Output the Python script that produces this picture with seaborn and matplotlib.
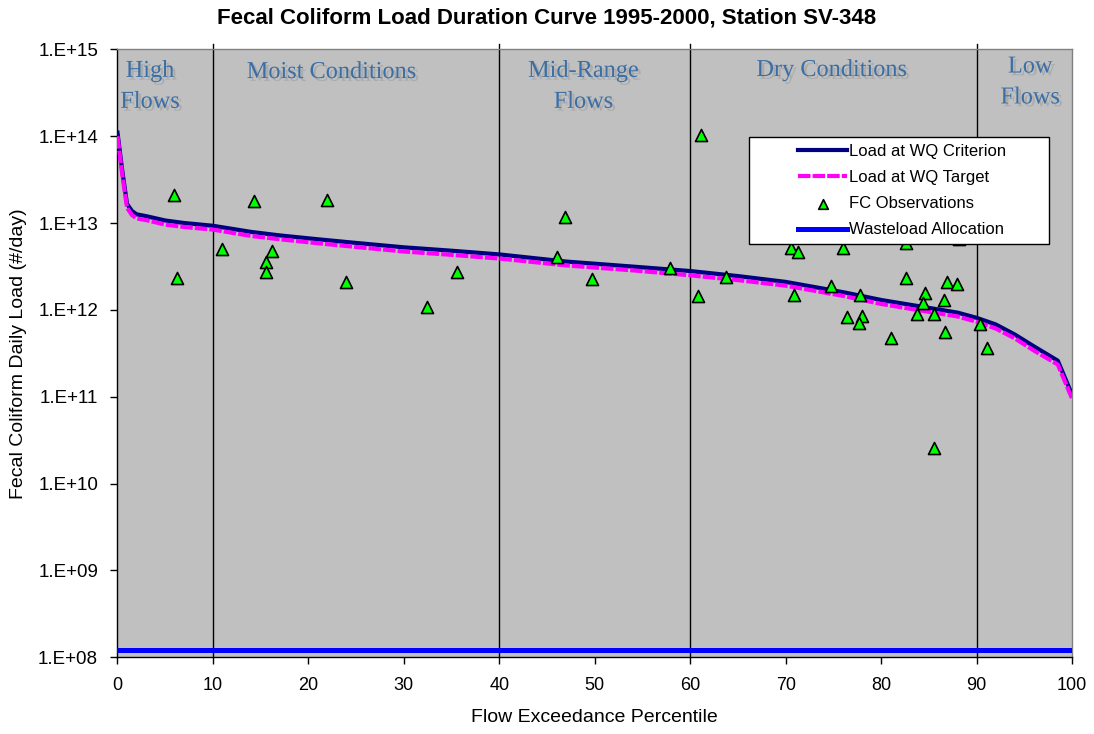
import matplotlib
matplotlib.use("Agg")
import matplotlib.pyplot as plt
import matplotlib.patheffects as pe
from matplotlib.lines import Line2D
from matplotlib.collections import PathCollection
from matplotlib.legend_handler import HandlerLine2D, HandlerPathCollection
import seaborn as sns

# load duration curves (flow exceedance percentile, #/day)
curve_pct = [0, 0.5, 1, 1.5, 2, 3, 5, 7, 10, 14, 17, 21, 25, 30, 35, 40, 47, 54, 60,
             65, 70, 76, 80, 84, 88, 90, 92, 94, 96, 98.5, 100]
criterion_load = [1.1e14, 4.0e13, 1.66e13, 1.38e13, 1.26e13, 1.2e13, 1.07e13, 1.0e13, 9.3e12,
                  7.9e12, 7.2e12, 6.5e12, 5.9e12, 5.25e12, 4.8e12, 4.35e12, 3.6e12, 3.15e12,
                  2.8e12, 2.45e12, 2.1e12, 1.6e12, 1.3e12, 1.1e12, 9.3e11, 8.1e11, 6.8e11,
                  5.2e11, 3.8e11, 2.6e11, 1.05e11]
target_load = [1.0e14, 3.6e13, 1.5e13, 1.24e13, 1.13e13, 1.08e13, 9.6e12, 9.0e12, 8.4e12,
               7.1e12, 6.5e12, 5.85e12, 5.3e12, 4.7e12, 4.3e12, 3.9e12, 3.25e12, 2.85e12,
               2.5e12, 2.2e12, 1.9e12, 1.45e12, 1.17e12, 9.9e11, 8.4e11, 7.3e11, 6.1e11,
               4.7e11, 3.4e11, 2.35e11, 9.5e10]

# fecal coliform observations
obs_pct = [5.9, 6.2, 10.9, 14.3, 16.2, 15.6, 15.6, 21.9, 23.9, 32.4, 35.6,
           46.9, 46.0, 49.7, 57.9, 61.1, 60.8, 63.7,
           70.9, 70.6, 71.3, 74.7, 76.0, 77.8, 76.4, 78.0, 77.7, 81.0, 82.6, 82.6,
           83.8, 84.6, 84.4, 85.5, 85.5, 86.7, 86.6, 86.9, 87.9, 88.1, 90.3, 91.1]
obs_load = [2.1e13, 2.35e12, 5.0e12, 1.8e13, 4.8e12, 3.6e12, 2.7e12, 1.85e13, 2.1e12, 1.07e12, 2.75e12,
            1.18e13, 4.1e12, 2.25e12, 3.0e12, 1.02e14, 1.45e12, 2.4e12,
            1.48e12, 5.2e12, 4.65e12, 1.9e12, 5.1e12, 1.48e12, 8.3e11, 8.5e11, 7.1e11, 4.7e11, 5.9e12, 2.33e12,
            8.9e11, 1.58e12, 1.19e12, 8.9e11, 2.6e10, 5.5e11, 1.29e12, 2.1e12, 2.0e12, 6.6e12, 6.9e11, 3.6e11]

wla_pct = [0, 100]
wla_load = [1.2e8, 1.2e8]

zone_edges = [10, 40, 60, 90]
zone_labels = ["High\nFlows", "Moist Conditions", "Mid-Range\nFlows", "Dry Conditions", "Low\nFlows"]
zone_label_x = [3.4, 22.4, 48.8, 74.8, 95.6]
zone_label_y = [3.7e14, 5.4e14, 3.7e14, 5.7e14, 4.15e14]

y_ticks = [1e8, 1e9, 1e10, 1e11, 1e12, 1e13, 1e14, 1e15]
y_ticklabels = ["1.E+08", "1.E+09", "1.E+10", "1.E+11", "1.E+12", "1.E+13", "1.E+14", "1.E+15"]


class ShiftedLine(HandlerLine2D):
    # legend line sits at the right part of the handle box
    def get_xdata(self, legend, xdescent, ydescent, width, height, fontsize):
        return [-xdescent + 0.46 * width, -xdescent + width], [-xdescent + 0.73 * width]


class ShiftedScatter(HandlerPathCollection):
    def get_xdata(self, legend, xdescent, ydescent, width, height, fontsize):
        return [-xdescent + 0.46 * width, -xdescent + width], [-xdescent + 0.73 * width]


plt.rcParams['font.family'] = ['Liberation Sans', 'DejaVu Sans']

fig = plt.figure(figsize=(10.94, 7.34), dpi=100)
ax = fig.add_axes([0.1074, 0.1045, 0.8726, 0.8283])
ax.set_facecolor('#c0c0c0')
ax.set_yscale('log')

for edge in zone_edges:
    ax.axvline(edge, ymax=1.008, color='black', lw=1.0, zorder=1.5, clip_on=False)

sns.lineplot(x=curve_pct, y=criterion_load, ax=ax, color='#000080', lw=3.0,
             label='Load at WQ Criterion', estimator=None, errorbar=None, zorder=3)
sns.lineplot(x=curve_pct, y=target_load, ax=ax, color='#ff00ff', lw=3.0,
             linestyle=(0, (3, 0.5)), label='Load at WQ Target',
             estimator=None, errorbar=None, zorder=3.1)
sns.scatterplot(x=obs_pct, y=obs_load, ax=ax, marker='^', s=75, color='#00ff00',
                edgecolor='black', linewidth=1.2, label='FC Observations', zorder=4)
sns.lineplot(x=wla_pct, y=wla_load, ax=ax, color='#0000ff', lw=3.6,
             label='Wasteload Allocation', estimator=None, errorbar=None, zorder=3)

for label, lx, ly in zip(zone_labels, zone_label_x, zone_label_y):
    ax.text(lx, ly, label, ha='center', va='center', fontsize=17.5, color='#3a6ea5',
            family=['Liberation Serif', 'DejaVu Serif'], linespacing=1.62, zorder=2,
            path_effects=[pe.withSimplePatchShadow(offset=(2, -2), shadow_rgbFace='#9a9a9a', alpha=0.55)])

ax.set_xlim(0, 100)
ax.set_ylim(1e8, 1e15)
ax.set_xticks(range(0, 101, 10))
ax.set_yticks(y_ticks)
ax.set_yticklabels(y_ticklabels)
ax.minorticks_off()
ax.tick_params(axis='both', direction='out', length=5, width=1, labelsize=13, colors='black')
ax.tick_params(axis='x', pad=9)
ax.tick_params(axis='y', pad=9, labelsize=13.5)

for side in ['left', 'bottom']:
    ax.spines[side].set_color('black')
    ax.spines[side].set_linewidth(1.0)
for side in ['top', 'right']:
    ax.spines[side].set_color('#808080')
    ax.spines[side].set_linewidth(1.0)

ax.set_xlabel('Flow Exceedance Percentile', fontsize=14)
ax.set_ylabel('Fecal Coliform Daily Load (#/day)', fontsize=14)
ax.xaxis.set_label_coords(0.5, -0.085)
ax.yaxis.set_label_coords(-0.095, 0.5)

fig.text(0.5, 1 - 18 / 734, 'Fecal Coliform Load Duration Curve 1995-2000, Station SV-348',
         ha='center', va='center', fontsize=16, fontweight='bold')

leg = ax.legend(loc='upper left', bbox_to_anchor=(0.6616, 0.683, 0.3143, 0.1723), mode='expand',
                borderaxespad=0, fontsize=12, handlelength=5.5, handletextpad=0.1,
                labelspacing=0.67, borderpad=0.4, markerscale=0.8, fancybox=False,
                framealpha=1, edgecolor='black',
                handler_map={Line2D: ShiftedLine(), PathCollection: ShiftedScatter()})
leg.get_frame().set_linewidth(1.0)
leg.set_zorder(10)

fig.savefig('out.png', dpi=100)
